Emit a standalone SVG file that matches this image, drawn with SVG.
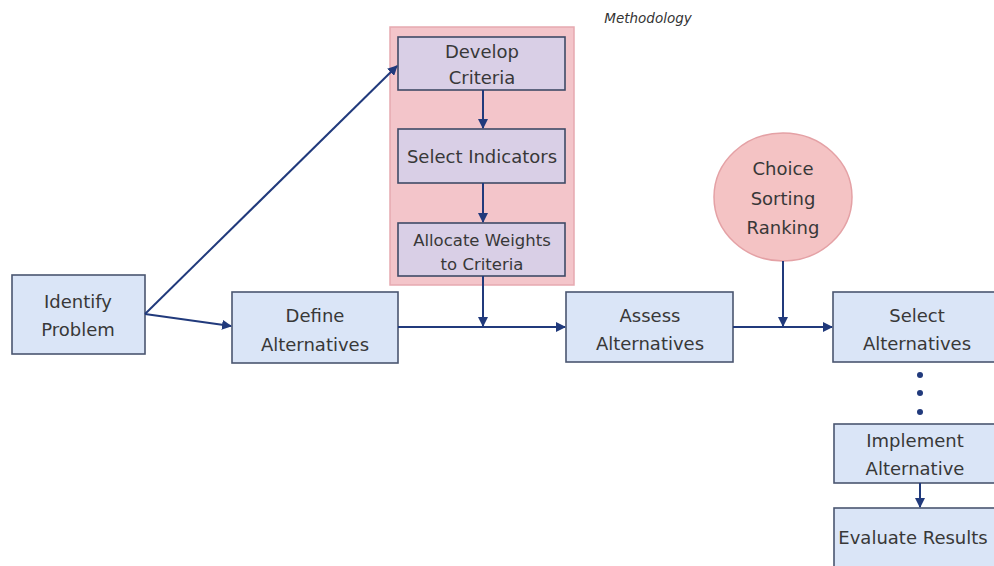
<svg xmlns="http://www.w3.org/2000/svg" width="994" height="566" viewBox="0 0 994 566">
<defs>
<style>
.box{fill:#dae5f7;stroke:#4a5670;stroke-width:1.6}
.pbox{fill:#d9cfe6;stroke:#3f4a66;stroke-width:1.6}
.t{font-family:"DejaVu Sans",sans-serif;font-size:18px;fill:#383838;text-anchor:middle}
.c{stroke:#213a7c;stroke-width:2;fill:none}
</style>
<marker id="ah" viewBox="0 0 10 10" refX="9" refY="5" markerWidth="5" markerHeight="5" orient="auto-start-reverse">
<path d="M0,0 L10,5 L0,10 z" fill="#213a7c"/>
</marker>
</defs>
<rect width="994" height="566" fill="#fff"/>
<text x="648" y="23" style="font-family:'DejaVu Sans',sans-serif;font-size:13.5px;font-style:italic;fill:#333;text-anchor:middle">Methodology</text>
<g id="methodology-panel"><rect x="390" y="27" width="184" height="258" fill="#f3c5ca" stroke="#e6a9b0" stroke-width="1.5"/></g>
<g id="develop-criteria"><rect class="pbox" x="398" y="37" width="167" height="53"/><text class="t" x="482" y="58">Develop</text><text class="t" x="482" y="84">Criteria</text></g>
<g id="select-indicators"><rect class="pbox" x="398" y="129" width="167" height="54"/><text class="t" x="482" y="163">Select Indicators</text></g>
<g id="allocate-weights"><rect class="pbox" x="398" y="223" width="167" height="53"/><text class="t" x="482" y="246" style="font-size:16.5px">Allocate Weights</text><text class="t" x="482" y="270" style="font-size:16.5px">to Criteria</text></g>
<g id="identify-problem"><rect class="box" x="12" y="275" width="133" height="79"/><text class="t" x="78" y="308">Identify</text><text class="t" x="78" y="336">Problem</text></g>
<g id="define-alternatives"><rect class="box" x="232" y="292" width="166" height="71"/><text class="t" x="315" y="322">Define</text><text class="t" x="315" y="351">Alternatives</text></g>
<g id="assess-alternatives"><rect class="box" x="566" y="292" width="167" height="70"/><text class="t" x="650" y="322">Assess</text><text class="t" x="650" y="350">Alternatives</text></g>
<g id="select-alternatives"><rect class="box" x="833" y="292" width="165" height="70"/><text class="t" x="917" y="322">Select</text><text class="t" x="917" y="350">Alternatives</text></g>
<g id="choice-sorting-ranking"><ellipse cx="783" cy="197" rx="69" ry="64" fill="#f4c3c4" stroke="#e4a1a5" stroke-width="1.5"/><text class="t" x="783" y="175">Choice</text><text class="t" x="783" y="205">Sorting</text><text class="t" x="783" y="234">Ranking</text></g>
<g id="implement-alternative"><rect class="box" x="834" y="424" width="164" height="59"/><text class="t" x="915" y="447">Implement</text><text class="t" x="915" y="475">Alternative</text></g>
<g id="evaluate-results"><rect class="box" x="834" y="508" width="164" height="64"/><text class="t" x="913" y="544">Evaluate Results</text></g>
<g id="connectors">
<line class="c" x1="145" y1="314" x2="397" y2="66" marker-end="url(#ah)"/>
<line class="c" x1="145" y1="314" x2="231" y2="326" marker-end="url(#ah)"/>
<line class="c" x1="483" y1="90" x2="483" y2="128" marker-end="url(#ah)"/>
<line class="c" x1="483" y1="183" x2="483" y2="222" marker-end="url(#ah)"/>
<line class="c" x1="398" y1="327" x2="565" y2="327" marker-end="url(#ah)"/>
<line class="c" x1="483" y1="276" x2="483" y2="326" marker-end="url(#ah)"/>
<line class="c" x1="733" y1="327" x2="832" y2="327" marker-end="url(#ah)"/>
<line class="c" x1="783" y1="261" x2="783" y2="326" marker-end="url(#ah)"/>
<line class="c" x1="920" y1="483" x2="920" y2="507" marker-end="url(#ah)"/>
<circle cx="920" cy="375" r="3" fill="#213a7c"/>
<circle cx="920" cy="393" r="3" fill="#213a7c"/>
<circle cx="920" cy="412" r="3" fill="#213a7c"/>
</g>
</svg>
